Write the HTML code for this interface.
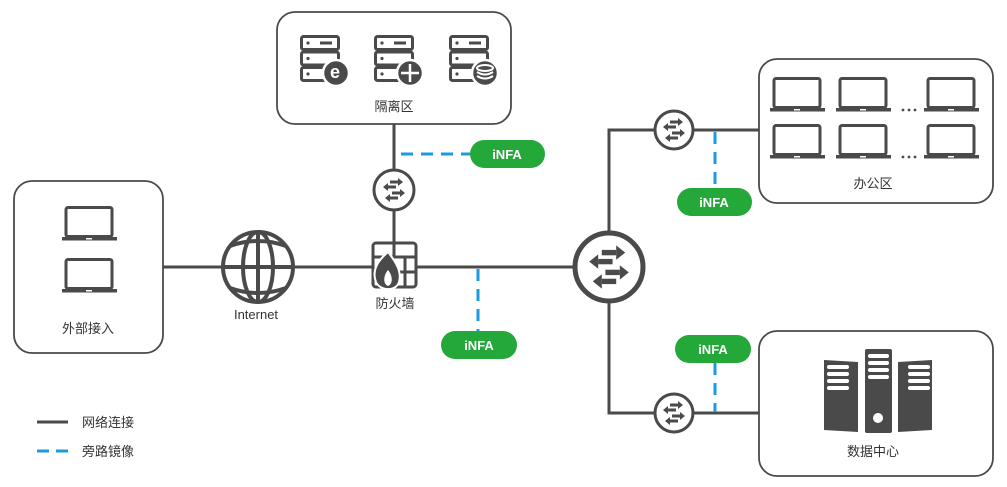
<!DOCTYPE html>
<html><head><meta charset="utf-8"><style>
html,body{margin:0;padding:0;background:#fff;}
svg{display:block;font-family:"Liberation Sans","Noto Sans CJK SC",sans-serif;}
</style></head><body>
<svg width="1007" height="487" viewBox="0 0 1007 487" xmlns="http://www.w3.org/2000/svg">
<defs>
<g id="lap">
  <rect x="4" y="1.5" width="46" height="29" rx="2" fill="none" stroke="#4a4a4a" stroke-width="3"/>
  <rect x="0" y="31" width="55" height="3.5" fill="#4a4a4a"/>
  <rect x="24" y="32" width="6" height="1.5" fill="#fff"/>
</g>
<g id="arr" fill="#4a4a4a">
  <rect x="-4" y="-9.5" width="8" height="3"/><path d="M4,-12 L9,-8 L4,-4 Z"/>
  <rect x="-6" y="-4.5" width="8" height="3"/><path d="M-6,-7 L-11,-3 L-6,1 Z"/>
  <rect x="-2" y="1.5" width="8" height="3"/><path d="M6,-1 L11,3 L6,7 Z"/>
  <rect x="-4" y="6.5" width="8" height="3"/><path d="M-4,4 L-9,8 L-4,12 Z"/>
</g>
<g id="srv">
  <rect x="1.5" y="1.5" width="37" height="13" rx="2" fill="none" stroke="#4a4a4a" stroke-width="3"/>
  <rect x="1.5" y="17" width="37" height="13" rx="2" fill="none" stroke="#4a4a4a" stroke-width="3"/>
  <rect x="1.5" y="32.5" width="37" height="13" rx="2" fill="none" stroke="#4a4a4a" stroke-width="3"/>
  <circle cx="8" cy="8" r="1.6" fill="#4a4a4a"/><circle cx="8" cy="23.5" r="1.6" fill="#4a4a4a"/><circle cx="8" cy="39" r="1.6" fill="#4a4a4a"/>
  <rect x="20" y="6.5" width="12" height="3" fill="#4a4a4a"/>
  <circle cx="36" cy="38" r="13" fill="#4a4a4a" stroke="#fff" stroke-width="2.5"/>
</g>
</defs>

<g stroke="#4a4a4a" stroke-width="3" fill="none">
  <line x1="163" y1="267" x2="575" y2="267"/>
  <line x1="394" y1="124" x2="394" y2="245"/>
  <polyline points="658,130 609,130 609,413 654,413"/>
  <line x1="694" y1="130" x2="759" y2="130"/>
  <line x1="694" y1="413" x2="759" y2="413"/>
</g>
<g stroke="#1a9be0" stroke-width="3" fill="none" stroke-dasharray="12,8">
  <line x1="401" y1="154" x2="470" y2="154"/>
  <line x1="478" y1="269" x2="478" y2="331"/>
  <line x1="715" y1="132" x2="715" y2="188"/>
  <line x1="715" y1="363" x2="715" y2="412"/>
</g>

<g fill="#fff" stroke="#4a4a4a" stroke-width="1.8">
  <rect x="14" y="181" width="149" height="172" rx="18"/>
  <rect x="277" y="12" width="234" height="112" rx="18"/>
  <rect x="759" y="59" width="234" height="144" rx="18"/>
  <rect x="759" y="331" width="234" height="145" rx="18"/>
</g>

<use href="#lap" x="62" y="206"/>
<use href="#lap" x="62" y="258"/>
<text x="88" y="333" font-size="13" text-anchor="middle" fill="#333">外部接入</text>

<g fill="#fff" stroke="#4a4a4a" stroke-width="4">
  <circle cx="258" cy="267" r="35"/>
  <ellipse cx="258" cy="267" rx="15" ry="35"/>
  <line x1="258" y1="232" x2="258" y2="302"/>
  <line x1="223" y1="267" x2="293" y2="267"/>
  <path d="M230,246 Q258,236 286,246 M230,288 Q258,298 286,288" fill="none"/>
</g>
<text x="256" y="319" font-size="13" text-anchor="middle" fill="#333">Internet</text>

<use href="#srv" x="300" y="35"/>
<use href="#srv" x="374" y="35"/>
<use href="#srv" x="449" y="35"/>
<text x="335" y="78" font-size="18" font-weight="bold" fill="#fff" text-anchor="middle">e</text>
<g stroke="#fff" stroke-width="2.5"><line x1="410" y1="64" x2="410" y2="82"/><line x1="401" y1="73" x2="419" y2="73"/></g>
<g fill="none" stroke="#fff" stroke-width="2"><ellipse cx="485" cy="68" rx="8" ry="3"/><path d="M477,72 Q485,77 493,72 M477,76 Q485,81 493,76"/></g>
<text x="394" y="111" font-size="13" text-anchor="middle" fill="#333">隔离区</text>

<g fill="#fff" stroke="#4a4a4a" stroke-width="3">
  <circle cx="394" cy="190" r="20"/>
  <circle cx="674" cy="130" r="19"/>
  <circle cx="674" cy="413" r="19"/>
  <circle cx="609" cy="267" r="34" stroke-width="5"/>
</g>
<use href="#arr" x="394" y="190"/>
<use href="#arr" x="674" y="130"/>
<use href="#arr" x="674" y="413"/>
<g transform="translate(609,267) scale(1.8)"><use href="#arr"/></g>

<g>
  <rect x="373" y="243" width="43" height="44" rx="3" fill="#fff" stroke="#4a4a4a" stroke-width="3"/>
  <g stroke="#4a4a4a" stroke-width="3"><line x1="373" y1="257" x2="416" y2="257"/><line x1="373" y1="272" x2="416" y2="272"/><line x1="394" y1="243" x2="394" y2="257"/><line x1="405" y1="257" x2="405" y2="287"/></g>
  <path d="M388,252 C376,262 372,272 376,282 C380,291 396,292 399,282 C402,272 396,262 388,252 Z" fill="#4a4a4a" stroke="#fff" stroke-width="2"/>
  <path d="M388,270 C383,276 383,284 388,286 C393,284 393,276 388,270 Z" fill="#fff"/>
</g>
<text x="395" y="308" font-size="13" text-anchor="middle" fill="#333">防火墙</text>

<use href="#lap" x="770" y="77"/><use href="#lap" x="836" y="77"/><use href="#lap" x="924" y="77"/>
<use href="#lap" x="770" y="124"/><use href="#lap" x="836" y="124"/><use href="#lap" x="924" y="124"/>
<g fill="#4a4a4a"><circle cx="903" cy="110" r="1.4"/><circle cx="909" cy="110" r="1.4"/><circle cx="915" cy="110" r="1.4"/>
<circle cx="903" cy="157" r="1.4"/><circle cx="909" cy="157" r="1.4"/><circle cx="915" cy="157" r="1.4"/></g>
<text x="873" y="188" font-size="13" text-anchor="middle" fill="#333">办公区</text>

<g fill="#4a4a4a">
  <path d="M824,360 L858,362 L858,432 L824,430 Z"/>
  <rect x="865" y="349" width="27" height="84" rx="2"/>
  <path d="M898,362 L932,360 L932,430 L898,432 Z"/>
</g>
<g fill="#fff">
  <rect x="827" y="365" width="22" height="4" rx="2"/><rect x="827" y="372" width="22" height="4" rx="2"/><rect x="827" y="379" width="22" height="4" rx="2"/><rect x="827" y="386" width="22" height="4" rx="2"/>
  <rect x="868" y="354" width="21" height="4" rx="2"/><rect x="868" y="361" width="21" height="4" rx="2"/><rect x="868" y="368" width="21" height="4" rx="2"/><rect x="868" y="375" width="21" height="4" rx="2"/>
  <rect x="908" y="365" width="22" height="4" rx="2"/><rect x="908" y="372" width="22" height="4" rx="2"/><rect x="908" y="379" width="22" height="4" rx="2"/><rect x="908" y="386" width="22" height="4" rx="2"/>
  <circle cx="878" cy="418" r="5"/>
</g>
<text x="873" y="456" font-size="13" text-anchor="middle" fill="#333">数据中心</text>

<g fill="#24a83a">
  <rect x="470" y="140" width="75" height="28" rx="14"/>
  <rect x="441" y="331" width="76" height="28" rx="14"/>
  <rect x="677" y="188" width="75" height="28" rx="14"/>
  <rect x="675" y="335" width="76" height="28" rx="14"/>
</g>
<g fill="#fff" font-size="13" font-weight="bold" text-anchor="middle">
  <text x="507" y="159">iNFA</text>
  <text x="479" y="350">iNFA</text>
  <text x="714" y="207">iNFA</text>
  <text x="713" y="354">iNFA</text>
</g>

<line x1="37" y1="422" x2="68" y2="422" stroke="#4a4a4a" stroke-width="3"/>
<line x1="37" y1="451" x2="68" y2="451" stroke="#1a9be0" stroke-width="3" stroke-dasharray="12,7"/>
<text x="82" y="427" font-size="13" fill="#333">网络连接</text>
<text x="82" y="456" font-size="13" fill="#333">旁路镜像</text>
</svg>
</body></html>
